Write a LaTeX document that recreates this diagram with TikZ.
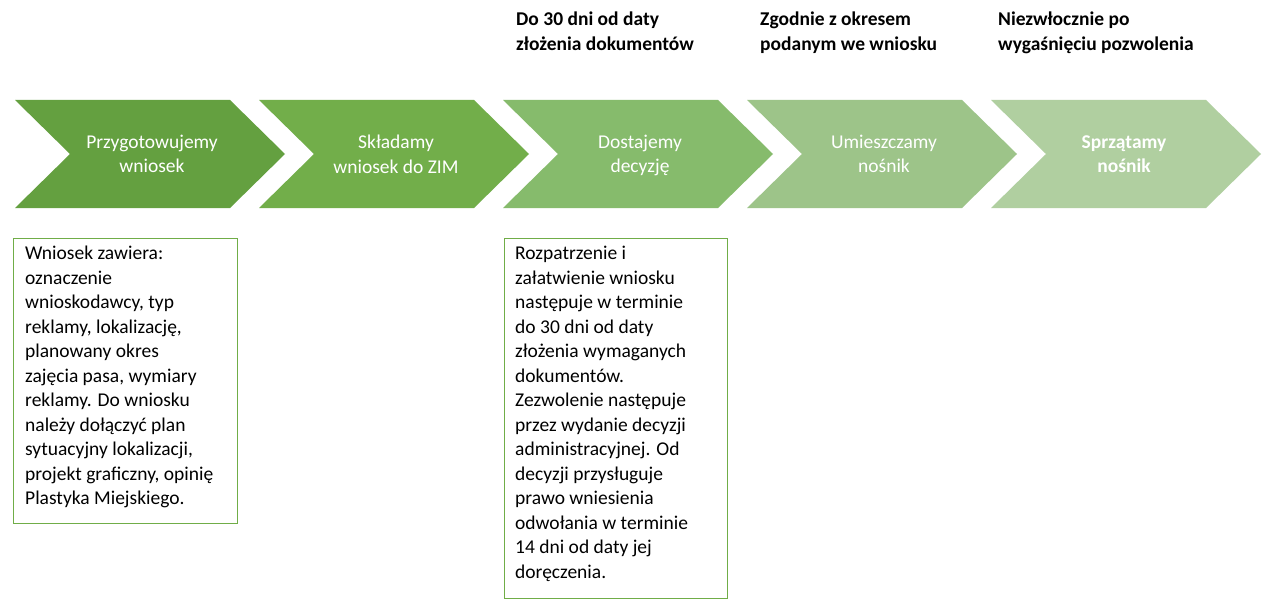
\documentclass[tikz,border=0pt]{standalone}
\usepackage{fontspec}
\setmainfont{Carlito}
\definecolor{c1}{HTML}{64A040}
\definecolor{c2}{HTML}{72AE4A}
\definecolor{c3}{HTML}{86BB6C}
\definecolor{c4}{HTML}{9DC489}
\definecolor{c5}{HTML}{B0CFA0}
\definecolor{bord}{HTML}{70AD47}
\begin{document}
\begin{tikzpicture}[x=1pt,y=-1pt,
  fs/.style={font=\fontsize{19.5}{24.5}\selectfont},
  chevtxt/.style={fs,text=white,align=center,anchor=center,text depth=0pt},
  toptxt/.style={font=\fontsize{19.5}{24.5}\selectfont\bfseries,align=left,anchor=north west,inner sep=0},
  infobox/.style={draw=bord,line width=0.8pt},
  infotxt/.style={fs,align=left,anchor=north west,inner sep=0}]
\useasboundingbox[fill=white] (0,0) rectangle (1275,615);
\foreach \i/\c in {0/c1,1/c2,2/c3,3/c4,4/c5}{
  \fill[\c] ({15+244*\i},100) -- ({230+244*\i},100) -- ({285+244*\i},154) -- ({230+244*\i},208) -- ({15+244*\i},208) -- ({70+244*\i},154) -- cycle;
}
\node[chevtxt] (t1) at (152,154) {Przygotowujemy\\wniosek};
\node[chevtxt] (t2) at (396,154) {Składamy\\wniosek do ZIM};
\node[chevtxt] (t3) at (640,154) {Dostajemy\\decyzję};
\node[chevtxt] (t4) at (884,154) {Umieszczamy\\nośnik};
\node[chevtxt,font=\fontsize{19.5}{24.5}\selectfont\bfseries] (t5) at (1124,154) {Sprzątamy\\nośnik};
\node[toptxt] (l1) at (516,12) {Do 30 dni od daty\\złożenia dokumentów};
\node[toptxt] (l2) at (760,12) {Zgodnie z okresem\\podanym we wniosku};
\node[toptxt] (l3) at (998,12) {Niezwłocznie po\\wygaśnięciu pozwolenia};
\draw[infobox] (13,238) rectangle (237,523);
\draw[infobox] (504,238) rectangle (727,598);
\node[infotxt] (b1) at (25,246) {Wniosek zawiera:\\oznaczenie\\wnioskodawcy, typ\\reklamy, lokalizację,\\planowany okres\\zajęcia pasa, wymiary\\reklamy. Do wniosku\\należy dołączyć plan\\sytuacyjny lokalizacji,\\projekt graficzny, opinię\\Plastyka Miejskiego.};
\node[infotxt] (b2) at (515,246) {Rozpatrzenie i\\załatwienie wniosku\\następuje w terminie\\do 30 dni od daty\\złożenia wymaganych\\dokumentów.\\Zezwolenie następuje\\przez wydanie decyzji\\administracyjnej. Od\\decyzji przysługuje\\prawo wniesienia\\odwołania w terminie\\14 dni od daty jej\\doręczenia.};
\end{tikzpicture}
\end{document}
